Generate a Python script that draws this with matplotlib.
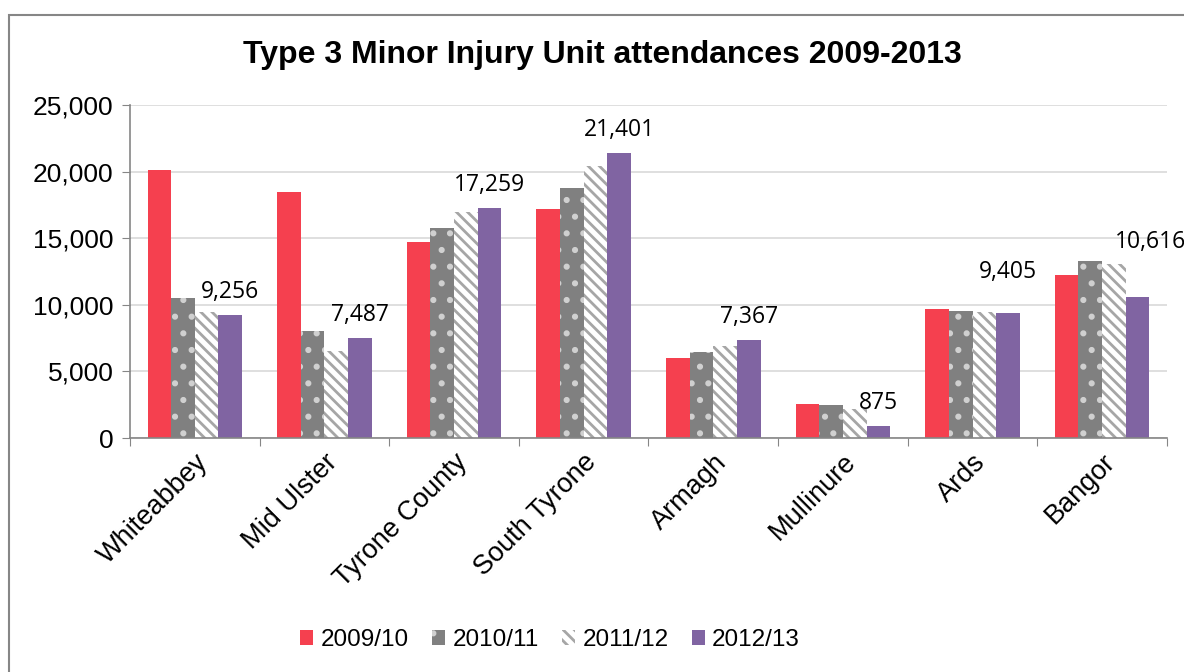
import numpy as np
import matplotlib.pyplot as plt
from matplotlib.patches import Rectangle

# ===== データ =====
sites = ["Whiteabbey", "Mid Ulster", "Tyrone County", "South Tyrone",
         "Armagh", "Mullinure", "Ards", "Bangor"]
years = ["2009/10", "2010/11", "2011/12", "2012/13"]
y2009 = [20100, 18470, 14700, 17200, 6000, 2550, 9660, 12240]
y2010 = [10500, 8030, 15770, 18800, 6450, 2450, 9530, 13290]
y2011 = [9460, 6530, 17000, 20400, 6900, 2200, 9460, 13100]
y2012 = [9256, 7487, 17259, 21401, 7367, 875, 9405, 10616]

# ラベルの位置調整（ポイント単位）
label_dx = [0, 0, 0, 0, 0, 0, 0, 9]
label_dy = [8, 8, 8, 8, 8, 8, 21, 31]

plt.rcParams['hatch.linewidth'] = 2.0

fig = plt.figure(figsize=(11.84, 6.72), dpi=100)
ax = fig.add_axes([0.1098, 0.3482, 0.8758, 0.4955])

x = np.arange(len(sites))
w = 0.73 / 4
styles = [
    dict(color='#F5404F'),
    dict(color='#808080', hatch='.', edgecolor='#D0D0D0', linewidth=0),
    dict(color='white', hatch='\\\\\\', edgecolor='#A6A6A6', linewidth=0),
    dict(color='#8064A2'),
]
series = [y2009, y2010, y2011, y2012]
for i, (vals, st) in enumerate(zip(series, styles)):
    bars = ax.bar(x + (i - 1.5) * w, vals, w, label=years[i], **st)
    if i == 1:
        for b in bars:
            b.set_facecolor('#808080')

# 2012/13 のラベル
for xi, v, dx, dy in zip(x, y2012, label_dx, label_dy):
    ax.annotate(f"{v:,}", (xi + 1.5 * w, v), xytext=(dx, dy),
                textcoords='offset points', ha='center', va='bottom',
                fontsize=16.5, family='Open Sans', annotation_clip=False)

ax.set_ylim(0, 25000)
ax.set_xlim(-0.5, len(sites) - 0.5)
ax.set_yticks(range(0, 25001, 5000))
ax.set_yticklabels([f"{t:,}" for t in range(0, 25001, 5000)],
                   family='Liberation Sans', fontsize=19)
ax.yaxis.grid(True, color='#D9D9D9', linewidth=1.2)
ax.set_axisbelow(True)

ax.set_xticks(np.arange(-0.5, len(sites), 1))
ax.set_xticklabels([])
ax.set_xticks(x, minor=True)
ax.set_xticklabels(sites, minor=True, rotation=45, ha='right',
                   rotation_mode='anchor', family='Liberation Sans', fontsize=19.5)
ax.tick_params(axis='x', which='minor', length=0, pad=8)
ax.tick_params(axis='x', which='major', length=6, color='#868686', direction='out')
ax.tick_params(axis='y', length=6, color='#868686', pad=6)

for s in ['top', 'right']:
    ax.spines[s].set_visible(False)
for s in ['left', 'bottom']:
    ax.spines[s].set_color('#868686')
    ax.spines[s].set_linewidth(1.2)

fig.text(0.509, 0.918, "Type 3 Minor Injury Unit attendances 2009-2013",
         ha='center', va='center', fontsize=23, fontweight='bold',
         family='Liberation Sans')

fig.legend(loc='center', bbox_to_anchor=(0.4645, 0.047), ncol=4, frameon=False,
           prop={'family': 'Liberation Sans', 'size': 17.5},
           handlelength=0.55, handleheight=0.55, handletextpad=0.3,
           columnspacing=0.95)

fig.patches.append(Rectangle((9 / 1184, -0.1), 1.2, 1 - 15 / 672 + 0.1,
                             transform=fig.transFigure, fill=False,
                             edgecolor='#868686', linewidth=1.5))

fig.savefig("out.png", dpi=100)
